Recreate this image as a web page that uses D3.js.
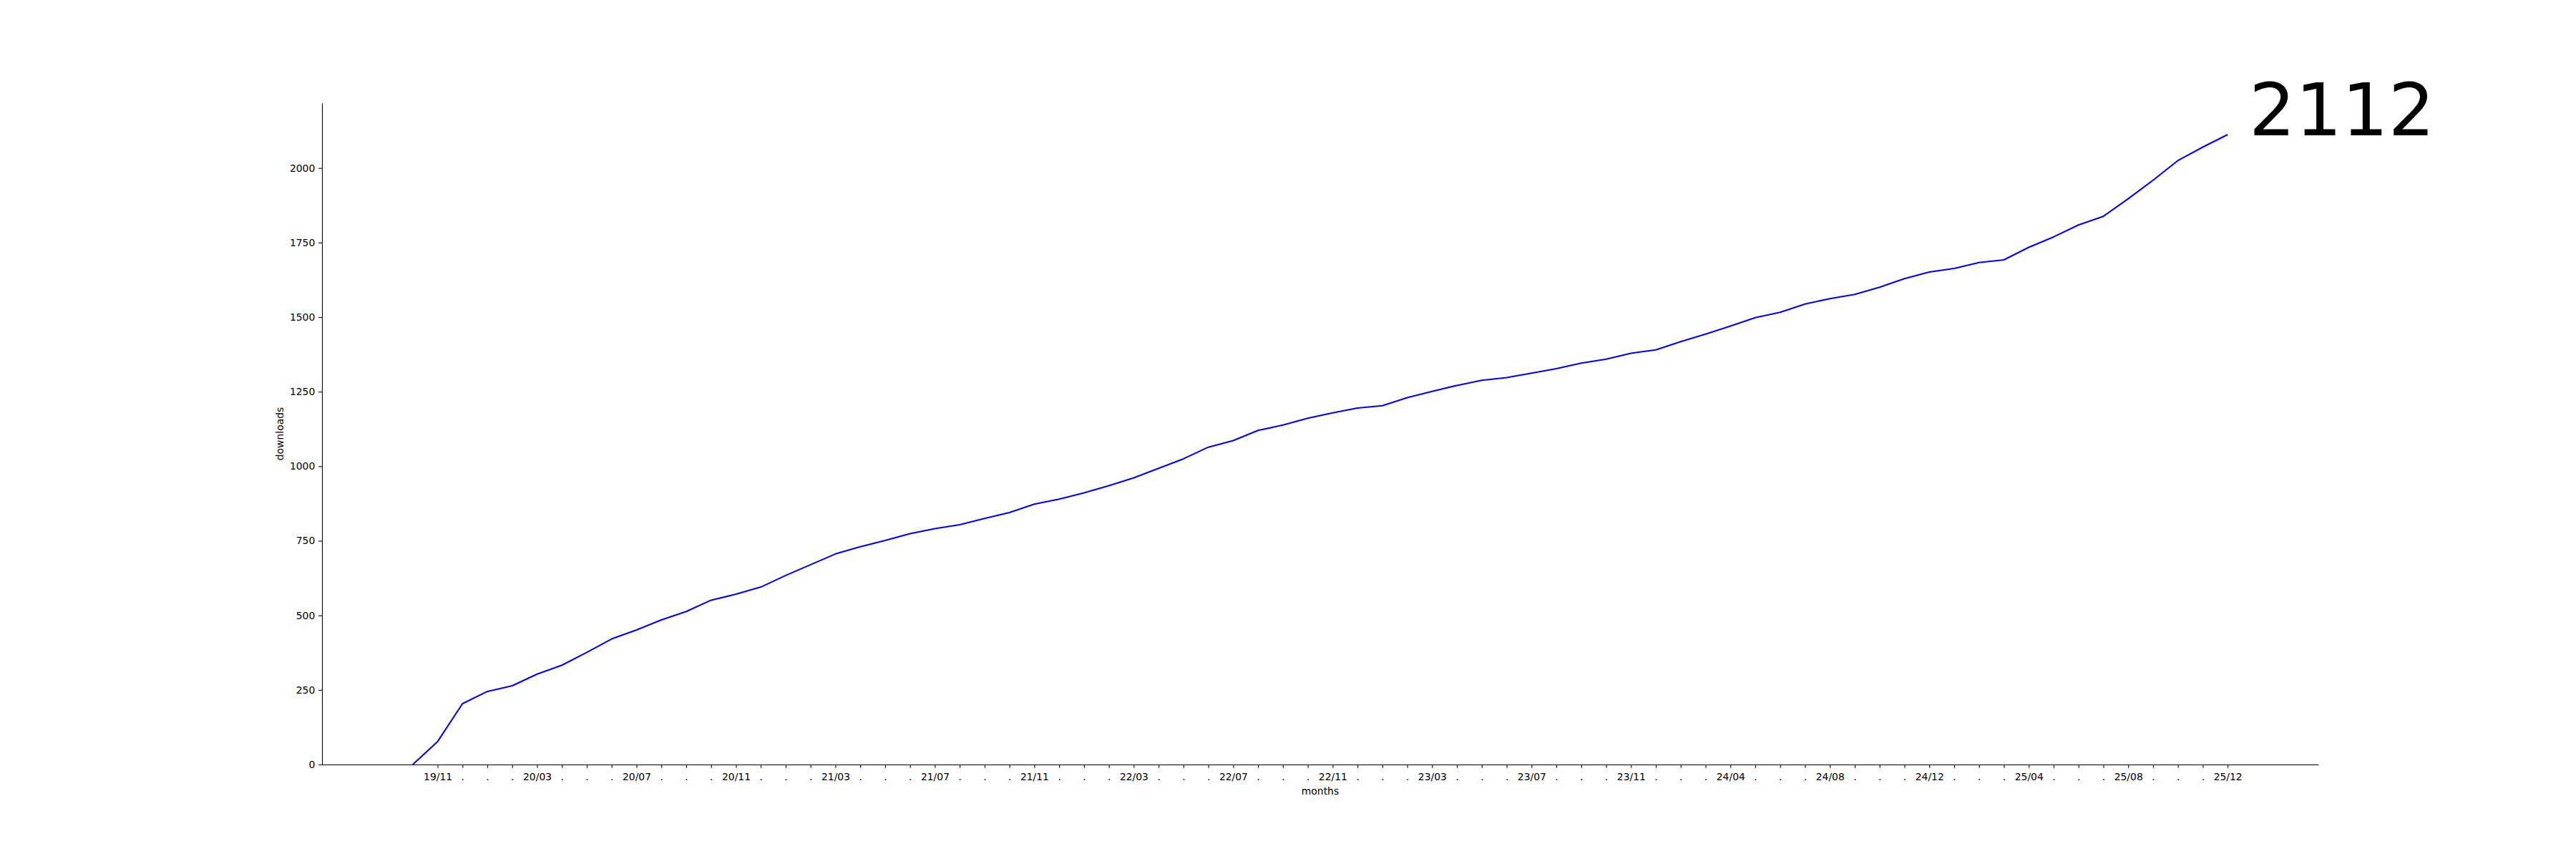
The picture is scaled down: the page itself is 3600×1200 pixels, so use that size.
<!DOCTYPE html>
<html>
<head>
<meta charset="utf-8">
<script src="https://cdn.jsdelivr.net/npm/d3@7"></script>
<style>
    body { margin: 0; background: #fff; }
    text { font-family: "DejaVu Sans", sans-serif; }
</style>
</head>
<body>
<div id="chart-holder"></div>
<script>
// monthly cumulative downloads
const months = [
    "19/10", "19/11", "19/12",
    "20/01", "20/02", "20/03", "20/04", "20/05", "20/06", "20/07", "20/08", "20/09", "20/10", "20/11", "20/12",
    "21/01", "21/02", "21/03", "21/04", "21/05", "21/06", "21/07", "21/08", "21/09", "21/10", "21/11", "21/12",
    "22/01", "22/02", "22/03", "22/04", "22/05", "22/06", "22/07", "22/08", "22/09", "22/10", "22/11", "22/12",
    "23/01", "23/02", "23/03", "23/04", "23/05", "23/06", "23/07", "23/08", "23/09", "23/10", "23/11", "23/12",
    "24/02", "24/03", "24/04", "24/05", "24/06", "24/07", "24/08", "24/09", "24/10", "24/11", "24/12",
    "25/01", "25/02", "25/03", "25/04", "25/05", "25/06", "25/07", "25/08", "25/09", "25/10", "25/11", "25/12"
];

const downloads = [
    0, 77, 204, 245, 264, 303, 333, 376, 421, 451, 485, 513, 551, 571, 595,
    634, 670, 706, 730, 751, 774, 791, 804, 825, 845, 873, 890, 911, 935, 961,
    993, 1025, 1064, 1086, 1120, 1138, 1161, 1179, 1195, 1203, 1230, 1251, 1271, 1288, 1297,
    1312, 1327, 1346, 1359, 1379, 1390, 1418, 1443, 1470, 1498, 1516, 1544, 1562, 1576, 1600,
    1629, 1651, 1663, 1683, 1692, 1734, 1769, 1809, 1838, 1897, 1959, 2025, 2070, 2112
];

const yTicks = [0, 250, 500, 750, 1000, 1250, 1500, 1750, 2000];

const width = 3600;
const height = 1200;

// matplotlib-like figure fractions
const plotLeft = 0.125 * width, plotRight = 0.9 * width;
const plotTop = 0.12 * height, plotBottom = 0.89 * height;

const fontSize = 13.9;
const tickLen = 4.86;

const svg = d3.select("#chart-holder")
    .append("svg")
    .attr("width", width)
    .attr("height", height);

const n = downloads.length;
const pad = (n - 1) * 0.05;
const maxVal = d3.max(downloads);

const x = d3.scaleLinear()
    .domain([-pad, n - 1 + pad])
    .range([plotLeft, plotRight]);

const y = d3.scaleLinear()
    .domain([0, maxVal * 1.05])
    .range([plotBottom, plotTop]);

// x axis, one tick a month, label every 4th
const xAxis = d3.axisBottom(x)
    .tickValues(d3.range(1, n))
    .tickFormat(function(d) {
        return d % 4 === 1 ? months[d] : ".";
    })
    .tickSizeInner(tickLen)
    .tickSizeOuter(0)
    .tickPadding(tickLen + 2);

const gx = svg.append("g")
    .attr("transform", `translate(0, ${plotBottom})`)
    .call(xAxis);

const yAxis = d3.axisLeft(y)
    .tickValues(yTicks)
    .tickFormat(d3.format("d"))
    .tickSizeInner(tickLen)
    .tickSizeOuter(0)
    .tickPadding(tickLen);

const gy = svg.append("g")
    .attr("transform", `translate(${plotLeft}, 0)`)
    .call(yAxis);

svg.selectAll(".domain, .tick line")
    .attr("stroke", "#000")
    .attr("stroke-width", 1.1);

svg.selectAll(".tick text")
    .attr("fill", "#000")
    .style("font-size", fontSize + "px")
    .style("font-family", "DejaVu Sans");

gx.selectAll(".tick text").attr("dy", "0.76em");

// axis labels
svg.append("text")
    .attr("x", (plotLeft + plotRight) / 2)
    .attr("y", plotBottom + tickLen * 2 + fontSize * 1.05 + 5.6 + fontSize * 0.76 + 2)
    .attr("text-anchor", "middle")
    .style("font-size", fontSize + "px")
    .text("months");

svg.append("text")
    .attr("transform", `translate(${plotLeft - tickLen * 2 - 35.4 - 5.6 - 3}, ${(plotTop + plotBottom) / 2}) rotate(-90)`)
    .attr("text-anchor", "middle")
    .style("font-size", fontSize + "px")
    .text("downloads");

// the line
const line = d3.line()
    .x(function(d, i) { return x(i); })
    .y(function(d) { return y(d); });

svg.append("path")
    .datum(downloads)
    .attr("d", line)
    .attr("fill", "none")
    .attr("stroke", "#0000ff")
    .attr("stroke-width", 2.08)
    .attr("stroke-linejoin", "round");

// big total number
svg.append("text")
    .attr("x", 3143)
    .attr("y", 189)
    .style("font-size", "102px")
    .attr("fill", "#000")
    .text(downloads[n - 1]);
</script>
</body>
</html>
